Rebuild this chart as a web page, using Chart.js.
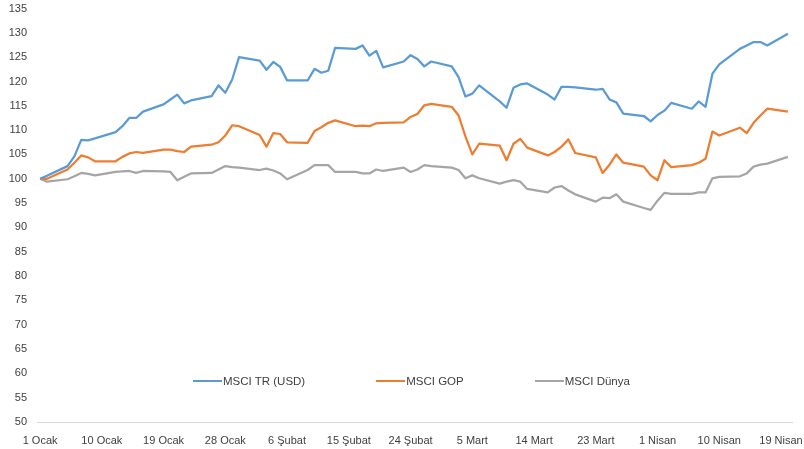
<!DOCTYPE html>
<html>
<head>
<meta charset="utf-8">
<script src="https://cdn.jsdelivr.net/npm/chart.js@4.4.1/dist/chart.umd.min.js"></script>
<style>
  html, body { margin: 0; padding: 0; background: #fff; }
  #wrap { position: relative; width: 804px; height: 449px; }
  #legend {
    position: absolute; left: 193px; top: 375px;
    display: flex; gap: 71px; align-items: center;
    font: 11.5px "Liberation Sans", Arial, sans-serif; color: #404040;
  }
  #legend .item { display: flex; align-items: center; }
  #legend .swatch { width: 29px; height: 2px; margin-right: 1px; }
</style>
</head>
<body>
<div id="wrap">
  <canvas id="myChart" width="804" height="449"></canvas>
  <div id="legend"></div>
</div>
<script>
// days since 1 Ocak (trading days only)
const days = [0, 1, 4, 5, 6, 7, 8, 11, 12, 13, 14, 15, 18, 19, 20, 21, 22,
  25, 26, 27, 28, 29, 32, 33, 34, 35, 36, 39, 40, 41, 42, 43, 46, 47, 48, 49, 50,
  53, 54, 55, 56, 57, 60, 61, 62, 63, 64, 67, 68, 69, 70, 71, 74, 75, 76, 77, 78,
  81, 82, 83, 84, 85, 88, 89, 90, 91, 92, 95, 96, 97, 98, 99, 102, 103, 104, 105, 106, 109];

const msciTR = [100, 100.6, 102.6, 104.6, 108.0, 107.9, 108.3, 109.6, 110.8, 112.5, 112.5, 113.8,
  115.3, 116.3, 117.3, 115.5, 116.1, 117.0, 119.2, 117.7, 120.4, 125.0, 124.3, 122.4, 124.0, 123.0, 120.2,
  120.2, 122.6, 121.8, 122.2, 126.9, 126.7, 127.4, 125.3, 126.3, 122.9, 124.1, 125.4, 124.6, 123.1, 124.1,
  123.1, 120.9, 116.9, 117.5, 119.2, 115.9, 114.6, 118.7, 119.4, 119.6, 117.3, 116.3, 118.9, 118.9, 118.8,
  118.3, 118.5, 116.3, 115.7, 113.4, 112.9, 111.8, 113.1, 114.0, 115.6, 114.4, 115.9, 114.8, 121.6, 123.5,
  126.7, 127.4, 128.1, 128.1, 127.4, 129.8];

const msciGOP = [100, 100.0, 101.9, 103.3, 104.8, 104.4, 103.6, 103.6, 104.5, 105.2, 105.5, 105.3,
  106.0, 106.0, 105.7, 105.5, 106.6, 107.0, 107.5, 108.9, 111.0, 110.8, 109.0, 106.6, 109.4, 109.2, 107.5,
  107.4, 109.8, 110.6, 111.5, 112.0, 110.8, 110.9, 110.8, 111.4, 111.5, 111.6, 112.7, 113.3, 115.1, 115.4,
  114.8, 113.0, 108.7, 105.0, 107.2, 106.8, 103.8, 107.2, 108.2, 106.4, 104.8, 105.5, 106.6, 108.1, 105.3,
  104.4, 101.2, 102.9, 105.0, 103.3, 102.5, 100.7, 99.7, 103.8, 102.4, 102.8, 103.3, 104.1, 109.7, 108.9,
  110.5, 109.4, 111.5, 113.0, 114.4, 113.8];

const msciDunya = [100, 99.4, 99.9, 100.5, 101.2, 101.0, 100.7, 101.4, 101.5, 101.6, 101.2, 101.6,
  101.5, 101.4, 99.7, 100.4, 101.1, 101.2, 101.9, 102.6, 102.4, 102.3, 101.8, 102.1, 101.7, 101.1, 99.9,
  101.8, 102.8, 102.8, 102.8, 101.4, 101.4, 101.1, 101.1, 101.9, 101.6, 102.3, 101.4, 101.9, 102.8, 102.6,
  102.3, 101.8, 100.1, 100.7, 100.1, 99.0, 99.4, 99.7, 99.4, 97.9, 97.2, 98.2, 98.5, 97.6, 96.8,
  95.3, 96.1, 96.0, 96.8, 95.3, 94.0, 93.6, 95.5, 97.1, 96.9, 96.9, 97.2, 97.2, 100.1, 100.4,
  100.5, 101.1, 102.5, 102.9, 103.1, 104.5];

const tickDays = [0, 9, 18, 27, 36, 45, 54, 63, 72, 81, 90, 99, 108];
const tickLabels = ["1 Ocak", "10 Ocak", "19 Ocak", "28 Ocak", "6 Şubat", "15 Şubat", "24 Şubat",
  "5 Mart", "14 Mart", "23 Mart", "1 Nisan", "10 Nisan", "19 Nisan"];

const toPoints = vals => vals.map((v, i) => ({ x: days[i], y: v }));
const font = { family: "'Liberation Sans', Arial, sans-serif", size: 11 };

// keep the plot area where the layout padding puts it
const noEdgePadding = scale => {
  scale.paddingTop = 0; scale.paddingBottom = 0;
  scale.paddingLeft = 0; scale.paddingRight = 0;
};

const ctx = document.getElementById('myChart').getContext('2d');
const chart = new Chart(ctx, {
  type: 'line',
  data: {
    datasets: [
      { label: "MSCI TR (USD)", data: toPoints(msciTR), borderColor: '#5B9BD5' },
      { label: "MSCI GOP", data: toPoints(msciGOP), borderColor: '#ED7D31' },
      { label: "MSCI Dünya", data: toPoints(msciDunya), borderColor: '#A5A5A5' }
    ]
  },
  options: {
    responsive: false,
    animation: false,
    layout: { padding: { top: 8.5, right: 12, bottom: 0, left: 0 } },
    elements: {
      point: { radius: 0 },
      line: { borderWidth: 2.25, tension: 0, borderJoinStyle: 'round', fill: false }
    },
    plugins: { legend: { display: false }, tooltip: { enabled: false } },
    scales: {
      x: {
        type: 'linear',
        min: -0.45,
        max: 109.6,
        grid: { display: false, drawTicks: false },
        border: { display: true, color: '#D9D9D9', width: 1 },
        afterBuildTicks: axis => { axis.ticks = tickDays.map(v => ({ value: v })); },
        afterFit: scale => { scale.height = 27; noEdgePadding(scale); },
        ticks: {
          autoSkip: false, maxRotation: 0, padding: 12, color: '#404040', font: font,
          callback: v => tickLabels[tickDays.indexOf(v)]
        }
      },
      y: {
        min: 50,
        max: 135,
        grid: { display: false, drawTicks: false },
        border: { display: false },
        afterFit: scale => { scale.width = 37; noEdgePadding(scale); },
        ticks: { stepSize: 5, padding: 10, color: '#404040', font: font }
      }
    }
  }
});

// legend built from the datasets
const legend = document.getElementById('legend');
chart.data.datasets.forEach(ds => {
  const item = document.createElement('div');
  item.className = 'item';
  item.innerHTML = '<span class="swatch" style="background:' + ds.borderColor + '"></span><span>' + ds.label + '</span>';
  legend.appendChild(item);
});
</script>
</body>
</html>
